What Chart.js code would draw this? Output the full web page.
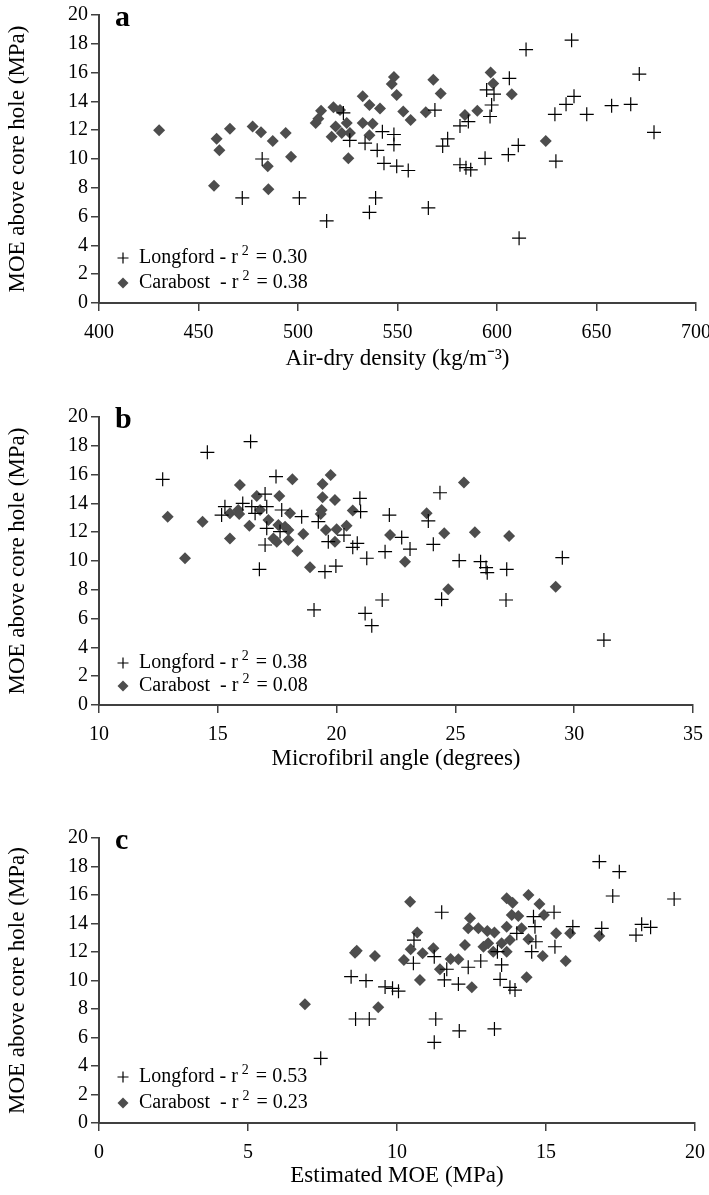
<!DOCTYPE html>
<html>
<head>
<meta charset="utf-8">
<script src="https://cdn.jsdelivr.net/npm/chart.js@4.4.1/dist/chart.umd.min.js"></script>
<style>
  body { margin: 0; background: #fff; width: 709px; height: 1195px; overflow: hidden; }
  canvas { position: absolute; left: 0; display: block; }
</style>
</head>
<body>
<canvas id="chart_a" width="709" height="385" style="top:0"></canvas>
<canvas id="chart_b" width="709" height="400" style="top:385px"></canvas>
<canvas id="chart_c" width="709" height="410" style="top:785px"></canvas>
<script>
// Panel a: air-dry density (kg/m-3) vs MOE above core hole (MPa), [x, y]
const longfordDensity = [
  [472, 7.3], [482, 10.0], [500.7, 7.3], [514.4, 5.7], [535.9, 6.3], [539, 7.3],
  [522.8, 13.2], [526, 11.3], [533.7, 11.1], [542.4, 11.9], [548.2, 11.7], [548.2, 11.0],
  [539.8, 10.6], [543.2, 9.7], [549.6, 9.5], [555.4, 9.2], [565.5, 6.6], [568.8, 13.4],
  [572.7, 10.9], [575.2, 11.4], [581.4, 12.3], [585.6, 12.6], [581.4, 9.6], [584.4, 9.4],
  [586.8, 9.25], [594, 10.05], [594.8, 14.8], [598.5, 14.5], [597.3, 13.75], [596.5, 12.95],
  [606.2, 15.6], [614.6, 17.6], [605.7, 10.3], [610.7, 10.95], [611.1, 4.5], [629.6, 9.85],
  [629.1, 13.1], [634.7, 13.8], [638.7, 14.35], [637.5, 18.25], [645.1, 13.1], [657.6, 13.7],
  [667.2, 13.8], [671.5, 15.9], [678.9, 11.85]
];
const carabostDensity = [
  [430.2, 12.0], [459.1, 11.4], [460.5, 10.6], [457.8, 8.15], [465.8, 12.1], [477.2, 12.25],
  [481.4, 11.85], [487.3, 11.25], [484.8, 9.5], [485.1, 7.9], [493.8, 11.8], [496.5, 10.15],
  [508.9, 12.5], [510.2, 12.8], [511.6, 13.35], [517.8, 13.6], [521.1, 13.4], [518.9, 12.25],
  [516.9, 11.55], [522, 11.8], [524.5, 12.5], [526.1, 11.8], [525.3, 10.05], [532.5, 14.35],
  [535.9, 13.75], [541.2, 13.5], [532.5, 12.5], [537.5, 12.45], [535.9, 11.65], [548.2, 15.7],
  [547.1, 15.2], [549.6, 14.45], [552.9, 13.3], [556.6, 12.7], [568, 15.5], [571.7, 14.55],
  [564.2, 13.25], [583.9, 13.05], [590.1, 13.35], [596.8, 16.0], [598.1, 15.25], [607.4, 14.5],
  [624.5, 11.25]
];

// Panel b: microfibril angle (degrees)
const longfordMfa = [
  [12.68, 15.67], [14.56, 17.55], [16.38, 18.29], [17.45, 15.86], [16.99, 14.65], [16.05, 14.0],
  [15.3, 13.77], [15.16, 13.19], [16.43, 13.77], [16.57, 13.31], [17.06, 13.77], [17.69, 13.54],
  [18.53, 13.08], [17.06, 12.27], [17.62, 12.04], [16.99, 11.11], [16.75, 9.42], [19.23, 12.73],
  [19.65, 11.34], [20.31, 11.8], [20.68, 10.95], [20.87, 11.23], [20.98, 14.35], [21.01, 13.43],
  [21.27, 10.19], [19.51, 9.26], [19.97, 9.65], [19.05, 6.6], [21.2, 6.36], [21.48, 5.51],
  [21.92, 7.29], [22.22, 13.19], [22.04, 10.65], [22.74, 11.64], [23.09, 10.83], [24.07, 11.16],
  [23.86, 12.78], [24.35, 14.74], [24.42, 7.34], [25.16, 10.02], [26.06, 9.95], [26.29, 9.54],
  [26.34, 9.19], [27.16, 9.42], [27.13, 7.29], [29.5, 10.23], [31.25, 4.51]
];
const carabostMfa = [
  [12.89, 13.08], [13.62, 10.19], [14.36, 12.73], [15.93, 15.28], [15.51, 13.31], [15.86, 13.54],
  [15.9, 13.26], [15.51, 11.57], [16.33, 12.45], [16.64, 14.51], [16.78, 13.54], [17.59, 14.51],
  [18.14, 15.67], [18.04, 13.31], [17.13, 12.85], [17.55, 12.5], [17.83, 12.38], [17.97, 12.15],
  [17.34, 11.57], [17.48, 11.34], [17.97, 11.46], [18.6, 11.87], [18.35, 10.69], [18.88, 9.56],
  [19.41, 15.35], [19.75, 15.97], [19.41, 14.42], [19.93, 14.24], [19.37, 13.54], [19.33, 13.26],
  [19.55, 12.15], [20.0, 12.2], [19.93, 11.34], [20.42, 12.45], [20.68, 13.5], [22.25, 11.81],
  [22.88, 9.95], [23.79, 13.31], [24.53, 11.92], [24.7, 8.03], [25.36, 15.46], [25.82, 11.99],
  [27.26, 11.74], [29.22, 8.22]
];

// Panel c: estimated MOE (MPa)
const longfordEst = [
  [7.44, 4.54], [8.46, 10.27], [8.96, 9.99], [8.61, 7.3], [9.07, 7.3], [9.6, 9.55],
  [9.85, 9.45], [10.05, 9.25], [10.57, 12.84], [10.55, 11.21], [11.25, 11.67], [11.5, 14.79],
  [11.67, 10.79], [11.59, 10.04], [12.06, 9.75], [12.39, 10.93], [12.81, 11.37], [11.3, 7.3],
  [11.25, 5.66], [12.09, 6.46], [13.27, 6.6], [13.37, 12.02], [13.51, 11.09], [13.46, 10.08],
  [13.79, 9.52], [13.96, 9.33], [14.02, 13.31], [14.52, 12.02], [14.66, 12.72], [14.58, 14.48],
  [14.63, 13.78], [15.27, 14.79], [15.3, 12.37], [15.9, 13.78], [16.87, 13.66], [16.79, 18.34],
  [17.46, 17.64], [17.24, 15.93], [18.02, 13.19], [18.21, 13.94], [18.51, 13.73], [19.3, 15.72]
];
const carabostEst = [
  [6.91, 8.33], [8.59, 11.95], [8.65, 12.09], [9.26, 11.72], [9.37, 8.12], [10.44, 15.53],
  [10.68, 13.36], [10.46, 12.19], [10.23, 11.44], [10.86, 11.91], [11.22, 12.26], [10.77, 10.04],
  [11.44, 10.79], [11.8, 11.51], [12.06, 11.49], [12.51, 9.52], [12.28, 12.49], [12.45, 14.36],
  [12.39, 13.66], [12.73, 13.66], [13.03, 13.47], [13.27, 13.36], [12.9, 12.37], [13.06, 12.61],
  [13.23, 12.02], [13.51, 12.61], [13.68, 12.02], [13.79, 12.84], [13.68, 13.78], [13.68, 15.77],
  [13.88, 15.46], [13.85, 14.6], [14.07, 14.53], [14.18, 13.66], [14.41, 16.0], [14.78, 15.37],
  [14.93, 14.6], [14.41, 12.89], [14.89, 11.72], [14.35, 10.22], [15.34, 13.31], [15.81, 13.31],
  [15.66, 11.37], [16.79, 13.12]
];

// r-squared values shown in the legends [Longford, Carabost]
const r2Density = ['0.30', '0.38'];
const r2Mfa = ['0.38', '0.08'];
const r2Est = ['0.53', '0.23'];

// x-axis ranges [min, max, step]
const densityAxis = [400, 700, 50];
const mfaAxis = [10, 35, 5];
const estAxis = [0, 20, 5];
const moeAxis = [0, 20, 2];

const SERIF = "'Liberation Serif', 'Times New Roman', serif";
const DIAMOND = '#4d4d4d';
const AXIS = '#404040';

const toPoints = arr => arr.map(p => ({ x: p[0], y: p[1] }));

// Letter in the top-left corner and the little legend in the bottom-left corner
const cornerLegend = {
  id: 'cornerLegend',
  afterDatasetsDraw(chart, args, opts) {
    const { ctx, chartArea: { left, top, bottom } } = chart;
    ctx.save();
    ctx.fillStyle = '#000';
    ctx.textAlign = 'left';
    ctx.textBaseline = 'alphabetic';
    ctx.font = `bold 30px ${SERIF}`;
    ctx.fillText(opts.letter, left + 16, top + 11);

    const rows = [
      { name: 'Longford - r', style: 'cross' },
      { name: 'Carabost  - r', style: 'rectRot' }
    ];
    rows.forEach((row, i) => {
      const y = bottom - opts.offsets[i];
      ctx.strokeStyle = '#000';
      ctx.fillStyle = row.style === 'cross' ? '#000' : DIAMOND;
      ctx.lineWidth = 1.2;
      Chart.helpers.drawPoint(ctx, { pointStyle: row.style, radius: 5.5, borderWidth: row.style === 'cross' ? 1.2 : 0 }, left + 24, y);

      ctx.fillStyle = '#000';
      ctx.textBaseline = 'middle';
      let x = left + 40;
      ctx.font = `20px ${SERIF}`;
      ctx.fillText(row.name, x, y);
      x += ctx.measureText(row.name).width + 4;
      ctx.font = `14px ${SERIF}`;
      ctx.fillText('2', x, y - 7);
      x += ctx.measureText('2').width + 7;
      ctx.font = `20px ${SERIF}`;
      ctx.fillText('= ' + opts.r2[i], x, y);
    });
    ctx.restore();
  }
};

const drawPanel = (id, cfg) => {
  const tickFont = { family: SERIF, size: 20 };
  const titleFont = { family: SERIF, size: 23 };
  return new Chart(document.getElementById(id), {
    type: 'scatter',
    data: {
      datasets: [
        {
          label: 'Longford',
          data: toPoints(cfg.longford),
          pointStyle: 'cross',
          pointRadius: 7,
          borderColor: '#000',
          backgroundColor: '#000',
          borderWidth: 1.2
        },
        {
          label: 'Carabost',
          data: toPoints(cfg.carabost),
          pointStyle: 'rectRot',
          pointRadius: 6,
          borderColor: DIAMOND,
          backgroundColor: DIAMOND,
          borderWidth: 0
        }
      ]
    },
    options: {
      responsive: false,
      animation: false,
      layout: { padding: { left: 0, right: cfg.padRight, top: cfg.padTop, bottom: 0 } },
      plugins: {
        legend: { display: false },
        tooltip: { enabled: false },
        cornerLegend: { letter: cfg.letter, r2: cfg.r2, offsets: cfg.legendOffsets }
      },
      scales: {
        x: {
          type: 'linear',
          min: cfg.xAxis[0],
          max: cfg.xAxis[1],
          ticks: { stepSize: cfg.xAxis[2], font: tickFont, color: '#000', padding: 10, maxRotation: 0 },
          grid: { drawOnChartArea: false, drawTicks: true, tickLength: 8, color: AXIS, lineWidth: 1.5 },
          border: { color: AXIS, width: 2 },
          title: { display: true, text: cfg.xTitle, font: titleFont, color: '#000', padding: { top: 0, bottom: cfg.titlePad } },
          afterFit: s => { s.height = cfg.xHeight; s.paddingLeft = 0; s.paddingRight = 0; }
        },
        y: {
          min: moeAxis[0],
          max: moeAxis[1],
          ticks: { stepSize: moeAxis[2], font: tickFont, color: '#000', padding: 3 },
          grid: { drawOnChartArea: false, drawTicks: true, tickLength: 8, color: AXIS, lineWidth: 1.5 },
          border: { color: AXIS, width: 2 },
          title: { display: true, text: 'MOE above core hole (MPa)', font: titleFont, color: '#000', padding: { top: 4, bottom: 0 } },
          afterFit: s => { s.width = 99; s.paddingTop = 0; s.paddingBottom = 0; }
        }
      }
    },
    plugins: [cornerLegend]
  });
};

drawPanel('chart_a', {
  letter: 'a', longford: longfordDensity, carabost: carabostDensity, r2: r2Density,
  xAxis: densityAxis, xTitle: 'Air-dry density (kg/m\u207B\u00B3)',
  padTop: 15, padRight: 13, xHeight: 82, titlePad: 12, legendOffsets: [45, 20]
});
drawPanel('chart_b', {
  letter: 'b', longford: longfordMfa, carabost: carabostMfa, r2: r2Mfa,
  xAxis: mfaAxis, xTitle: 'Microfibril angle (degrees)',
  padTop: 32, padRight: 16, xHeight: 80, titlePad: 12.5, legendOffsets: [42, 19]
});
drawPanel('chart_c', {
  letter: 'c', longford: longfordEst, carabost: carabostEst, r2: r2Est,
  xAxis: estAxis, xTitle: 'Estimated MOE (MPa)',
  padTop: 53, padRight: 14, xHeight: 72, titlePad: 5.5, legendOffsets: [46, 20]
});
</script>
</body>
</html>
